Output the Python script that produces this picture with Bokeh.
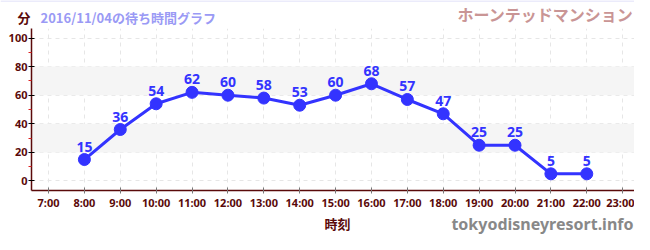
from bokeh.plotting import figure
from bokeh.models import (FixedTicker, BoxAnnotation, ColumnDataSource, Range1d, Span)
from bokeh.layouts import column
from bokeh.embed import file_html
from bokeh.resources import INLINE
from bokeh.core.properties import value

hours = [8, 9, 10, 11, 12, 13, 14, 15, 16, 17, 18, 19, 20, 21, 22]
waits = [15, 36, 54, 62, 60, 58, 53, 60, 68, 57, 47, 25, 25, 5, 5]
tick_hours = list(range(7, 24))
tick_labels = [f"{h}:00" for h in tick_hours]
y_ticks = [0, 20, 40, 60, 80, 100]
y_minor = [10, 30, 50, 70, 90]
bands = [(20, 40), (60, 80)]
unit_label = "分"
subtitle = "2016/11/04の待ち時間グラフ"
attraction = "ホーンテッドマンション"
x_label = "時刻"
watermark = "tokyodisneyresort.info"

JP = "Noto Sans CJK JP"
LAT = "Noto Sans"
DARK = "#5a0a0a"
BLUE = "#3333ff"
W = 634
H_HEAD, H_MAIN, H_FOOT = 28, 184, 22


def blank(h):
    f = figure(width=W, height=h, output_backend="svg", toolbar_location=None,
               x_range=Range1d(0, W), y_range=Range1d(0, h),
               x_axis_type=None, y_axis_type=None, frame_align=False,
               min_border=0, min_border_left=0, min_border_right=0,
               min_border_top=0, min_border_bottom=0)
    f.outline_line_color = None
    f.grid.visible = False
    return f


def txt(f, x, y, t, size, color, align="left", font=JP):
    f.text(x=[x], y=[y], text=[t], text_font=value(font), text_font_style="bold",
           text_font_size=size, text_color=color, text_align=align,
           text_baseline="middle")


# header
head = blank(H_HEAD)
head.add_layout(Span(location=H_HEAD - 0.5, dimension="width", line_color="#e4e4fa", line_width=1.5))
txt(head, 17, 11, unit_label, "13px", DARK)
txt(head, 40, 11, subtitle, "13px", "#9a9af5")
txt(head, 633, 15, attraction, "16px", "#c99595", "right")

# main chart
p = figure(width=W, height=H_MAIN, output_backend="svg", toolbar_location=None,
           x_range=Range1d(6.526, 23.33), y_range=Range1d(-6.67, 106.67),
           frame_align=False,
           min_border_left=31, min_border_right=0, min_border_top=0, min_border_bottom=19)
p.outline_line_color = None

for b0, b1 in bands:
    p.add_layout(BoxAnnotation(bottom=b0, top=b1, fill_color="#f5f5f5", fill_alpha=1.0,
                               line_color=None, level="underlay"))

p.xgrid.ticker = FixedTicker(ticks=tick_hours)
p.ygrid.ticker = FixedTicker(ticks=y_ticks)
for g in (p.xgrid, p.ygrid):
    g.grid_line_color = "#e6e6e6"
    g.grid_line_dash = "4 4"
    g.grid_line_width = 1

xa = p.xaxis[0]
xa.ticker = FixedTicker(ticks=tick_hours)
xa.major_label_overrides = {h: l for h, l in zip(tick_hours, tick_labels)}
xa.axis_line_color = DARK
xa.axis_line_width = 1.5
xa.major_tick_line_color = "#777777"
xa.major_tick_in = 3
xa.major_tick_out = 3
xa.minor_tick_line_color = None
xa.major_label_text_color = DARK
xa.major_label_text_font = LAT
xa.major_label_text_font_style = "bold"
xa.major_label_text_font_size = "11px"
xa.major_label_standoff = 1

ya = p.yaxis[0]
ya.ticker = FixedTicker(ticks=y_ticks, minor_ticks=y_minor)
ya.axis_line_color = DARK
ya.axis_line_width = 1.5
ya.major_tick_line_color = "black"
ya.major_tick_in = 3
ya.major_tick_out = 3
ya.minor_tick_line_color = "#dd2222"
ya.minor_tick_in = 0
ya.minor_tick_out = 3
ya.major_label_text_color = DARK
ya.major_label_text_font = LAT
ya.major_label_text_font_style = "bold"
ya.major_label_text_font_size = "11px"
ya.major_label_standoff = 1

src = ColumnDataSource(dict(x=hours, y=waits, t=[str(v) for v in waits]))
p.line("x", "y", source=src, line_color=BLUE, line_width=3)
p.scatter("x", "y", source=src, size=12, fill_color=BLUE, line_color=BLUE)
p.text("x", "y", text="t", source=src, text_color=BLUE, text_font=value(LAT),
       text_font_style="bold", text_font_size="14px", text_align="center",
       text_baseline="bottom", y_offset=-8)

# footer
foot = blank(H_FOOT)
txt(foot, 337, 11, x_label, "13px", DARK, "center")
txt(foot, 633, 11, watermark, "16px", "#888888", "right", font=LAT)

layout = column(head, p, foot, spacing=0)
open("out.html", "w").write(file_html(layout, INLINE))
